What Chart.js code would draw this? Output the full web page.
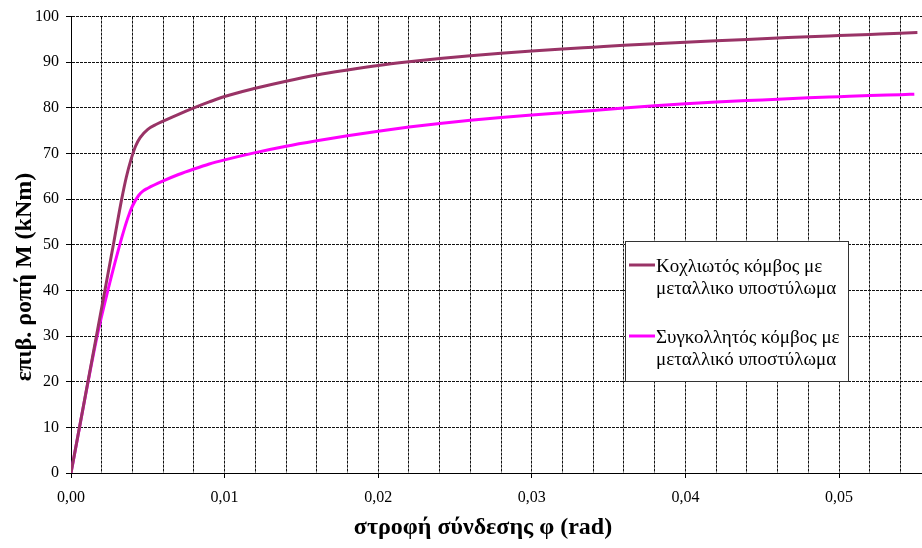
<!DOCTYPE html>
<html>
<head>
<meta charset="utf-8">
<script src="https://cdn.jsdelivr.net/npm/chart.js@4.4.1/dist/chart.umd.min.js"></script>
<style>
  html, body { margin: 0; padding: 0; background: #fff; }
  #wrap { width: 922px; height: 548px; position: relative; }
</style>
</head>
<body>
<div id="wrap"><canvas id="chartRotation"></canvas></div>
<script>
// στροφή φ (rad) και ροπή M (kNm), διαβασμένα από το διάγραμμα
const phiBolted = [0, 0.0028, 0.0033, 0.0036, 0.0039, 0.0042, 0.0045, 0.005, 0.0055, 0.006, 0.007,
  0.008, 0.009, 0.01, 0.012, 0.014, 0.016, 0.018, 0.02, 0.022, 0.024, 0.026, 0.028, 0.03, 0.032, 0.034,
  0.036, 0.038, 0.04, 0.042, 0.044, 0.046, 0.048, 0.05, 0.052, 0.054, 0.0551];
const mBolted = [0, 50.8, 60, 64.8, 68.6, 71.6, 73.5, 75.3, 76.3, 77.1, 78.6,
  80.0, 81.3, 82.5, 84.3, 85.85, 87.2, 88.3, 89.3, 90.1, 90.8, 91.4, 91.95, 92.45, 92.9, 93.3,
  93.7, 94.05, 94.4, 94.7, 95.0, 95.3, 95.6, 95.85, 96.1, 96.35, 96.5];

const phiWelded = [0, 0.0017, 0.0024, 0.0033, 0.0037, 0.004, 0.0044, 0.0047, 0.005, 0.006, 0.007,
  0.008, 0.009, 0.01, 0.012, 0.014, 0.016, 0.018, 0.02, 0.022, 0.024, 0.026, 0.028, 0.03, 0.032, 0.034,
  0.036, 0.038, 0.04, 0.042, 0.044, 0.046, 0.048, 0.05, 0.052, 0.054, 0.0549];
const mWelded = [0, 30, 40, 51.5, 55.9, 58.5, 60.8, 61.8, 62.4, 64.0, 65.4,
  66.6, 67.7, 68.6, 70.2, 71.6, 72.8, 73.9, 74.9, 75.8, 76.6, 77.3, 77.9, 78.45, 78.95, 79.45,
  79.95, 80.45, 80.9, 81.3, 81.6, 81.9, 82.2, 82.45, 82.7, 82.9, 83.0];

const seriesNames = [
  ['Κοχλιωτός κόμβος με', 'μεταλλικο υποστύλωμα'],
  ['Συγκολλητός κόμβος με', 'μεταλλικό υποστύλωμα']
];
const seriesColors = ['#993366', '#ff00ff'];

const xTitle = 'στροφή σύνδεσης φ (rad)';
const yTitle = 'επιβ. ροπή M (kNm)';

const xMax = 0.0554;
const xStep = 0.002;
const xMajor = 0.01;
const yMax = 100;
const yStep = 10;

const serif = '"Liberation Serif", "Times New Roman", serif';

function toPoints(xs, ys) {
  return xs.map((x, i) => ({ x: x, y: ys[i] }));
}

function isMajor(v) {
  const r = v / xMajor;
  return Math.abs(r - Math.round(r)) < 1e-6;
}

// υπόμνημα σε πλαίσιο, με δύο γραμμές κειμένου ανά σειρά
const legendBox = {
  id: 'legendBox',
  afterDraw(chart) {
    const ctx = chart.ctx;
    const x = 625, y = 241, w = 223, h = 140;
    ctx.save();
    ctx.fillStyle = '#fff';
    ctx.fillRect(x, y, w, h);
    ctx.strokeStyle = '#333';
    ctx.lineWidth = 1;
    ctx.strokeRect(x + 0.5, y + 0.5, w, h);
    ctx.font = '19px ' + serif;
    ctx.textBaseline = 'middle';
    ctx.textAlign = 'left';
    chart.data.datasets.forEach((ds, i) => {
      const lineY = y + 26 + i * 71;
      ctx.strokeStyle = ds.borderColor;
      ctx.lineWidth = 3;
      ctx.beginPath();
      ctx.moveTo(x + 4, lineY - 2);
      ctx.lineTo(x + 30, lineY - 2);
      ctx.stroke();
      ctx.fillStyle = '#000';
      ds.labelLines.forEach((t, j) => {
        ctx.fillText(t, x + 31, lineY + j * 22.5);
      });
    });
    ctx.restore();
  }
};

// τίτλοι αξόνων
const axisTitles = {
  id: 'axisTitles',
  afterDraw(chart) {
    const ctx = chart.ctx;
    ctx.save();
    ctx.fillStyle = '#000';
    ctx.font = 'bold 24px ' + serif;
    ctx.textAlign = 'center';
    ctx.textBaseline = 'middle';
    ctx.fillText(xTitle, 483, 528);
    ctx.translate(25, 277);
    ctx.rotate(-Math.PI / 2);
    ctx.fillText(yTitle, 0, 0);
    ctx.restore();
  }
};

function initChart() {
  const ctx = document.getElementById('chartRotation');
  new Chart(ctx, {
    type: 'line',
    data: {
      datasets: [
        {
          label: seriesNames[0].join(' '),
          labelLines: seriesNames[0],
          data: toPoints(phiBolted, mBolted),
          borderColor: seriesColors[0],
          borderWidth: 3,
          pointRadius: 0,
          cubicInterpolationMode: 'monotone'
        },
        {
          label: seriesNames[1].join(' '),
          labelLines: seriesNames[1],
          data: toPoints(phiWelded, mWelded),
          borderColor: seriesColors[1],
          borderWidth: 3,
          pointRadius: 0,
          cubicInterpolationMode: 'monotone'
        }
      ]
    },
    options: {
      responsive: true,
      maintainAspectRatio: false,
      animation: false,
      layout: { padding: { top: 15, right: 0, left: 0, bottom: 0 } },
      plugins: {
        legend: { display: false },
        tooltip: { enabled: false }
      },
      scales: {
        x: {
          type: 'linear',
          min: 0,
          max: xMax,
          afterBuildTicks: scale => {
            const ticks = [];
            for (let i = 0; i * xStep <= xMax + 1e-9; i++) {
              ticks.push({ value: +(i * xStep).toFixed(4) });
            }
            scale.ticks = ticks;
          },
          afterFit: scale => { scale.height = 75; },
          grid: {
            color: ctx => ctx.tick && ctx.tick.value === 0 ? 'transparent' : '#111',
            lineWidth: 1,
            tickLength: 5,
            tickColor: ctx => ctx.tick && isMajor(ctx.tick.value) ? '#000' : 'transparent'
          },
          border: { display: true, color: '#000', width: 1, dash: [3, 1] },
          ticks: {
            autoSkip: false,
            maxRotation: 0,
            padding: 10,
            color: '#000',
            font: { family: serif, size: 16 },
            callback: v => isMajor(v) ? v.toFixed(2).replace('.', ',') : ''
          }
        },
        y: {
          min: 0,
          max: yMax,
          afterFit: scale => { scale.width = 71; },
          grid: {
            color: '#111',
            lineWidth: 1,
            tickLength: 5,
            tickColor: '#000'
          },
          border: { display: true, color: '#000', width: 1, dash: [3, 1] },
          ticks: {
            stepSize: yStep,
            padding: 7,
            color: '#000',
            font: { family: serif, size: 16 }
          }
        }
      }
    },
    plugins: [legendBox, axisTitles]
  });
}

document.addEventListener('DOMContentLoaded', initChart);
</script>
</body>
</html>
